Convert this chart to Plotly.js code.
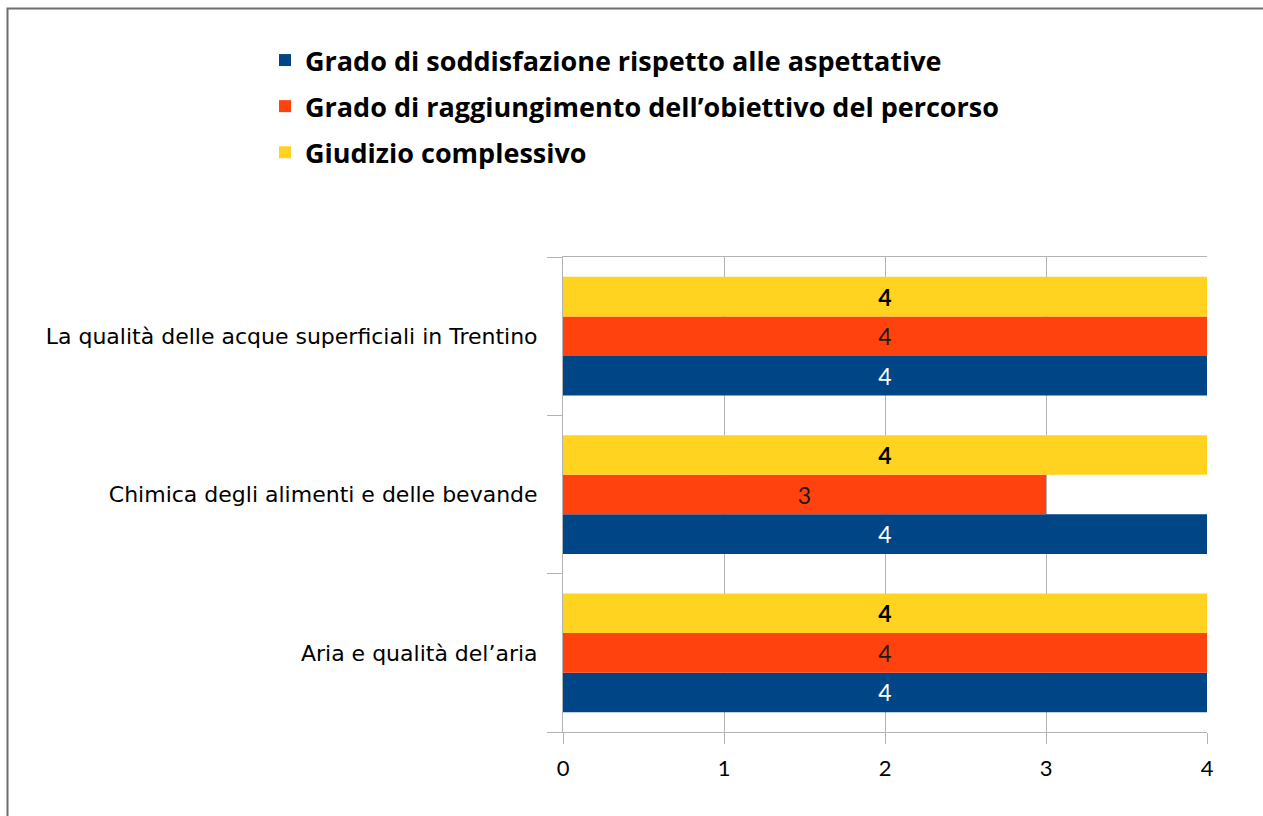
<!DOCTYPE html>
<html>
<head>
<meta charset="utf-8">
<script src="https://cdn.plot.ly/plotly-3.0.1.min.js"></script>
<style>
  html, body { margin: 0; padding: 0; background: #fff; overflow: hidden; }
  #chart { width: 1263px; height: 816px; }
</style>
</head>
<body>
<div id="chart"></div>
<script>
const categories = [
  "Aria e qualità del’aria",
  "Chimica degli alimenti e delle bevande",
  "La qualità delle acque superficiali in Trentino"
];
const seriesNames = [
  "Grado di soddisfazione rispetto alle aspettative",
  "Grado di raggiungimento dell’obiettivo del percorso",
  "Giudizio complessivo"
];
const soddisfazione = [4, 4, 4];
const raggiungimento = [4, 3, 4];
const giudizio = [4, 4, 4];
const xTicks = [0, 1, 2, 3, 4];

const colors = ["#004586", "#ff420e", "#ffd320"];
const textColors = ["#ffffff", "#1a1a1a", "#000000"];
const allValues = [soddisfazione, raggiungimento, giudizio];

const traces = allValues.map((vals, i) => ({
  type: "bar",
  orientation: "h",
  name: seriesNames[i],
  legendgroup: "g" + i,
  y: categories,
  x: vals,
  marker: { color: colors[i], line: { width: 0 } },
  text: vals.map(v => i === 2 ? "<b>" + v + "</b>" : String(v)),
  textposition: "inside",
  insidetextanchor: "middle",
  textangle: 0,
  constraintext: "none",
  textfont: { family: "Lato", size: 23, color: textColors[i] },
  hoverinfo: "x+name"
}));

const L = 563, R = 56, T = 257, B = 84;
const W = 1263, H = 816;
const pw = W - L - R, ph = H - T - B;
const px = v => (v - L) / pw;
const py = v => (H - B - v) / ph;

const layout = {
  width: W, height: H,
  margin: { l: L, r: R, t: T, b: B, pad: 0 },
  paper_bgcolor: "#ffffff",
  plot_bgcolor: "#ffffff",
  barmode: "group",
  bargap: 0.25,
  bargroupgap: 0,
  showlegend: true,
  legend: {
    orientation: "v",
    traceorder: "grouped",
    x: px(265), xanchor: "left",
    y: py(36), yanchor: "top",
    font: { family: "Open Sans", size: 27, color: "#000000", weight: "bold" },
    bgcolor: "rgba(0,0,0,0)",
    itemclick: false,
    itemdoubleclick: false,
    tracegroupgap: 8
  },
  xaxis: {
    range: [0, 4],
    tickvals: xTicks,
    ticktext: xTicks.map(String),
    showgrid: true,
    gridcolor: "#b3b3b3",
    gridwidth: 1,
    zeroline: false,
    showline: true,
    linecolor: "#b3b3b3",
    linewidth: 1,
    mirror: true,
    ticks: "outside",
    ticklen: 11,
    tickcolor: "#b3b3b3",
    tickwidth: 1,
    ticklabelstandoff: 6,
    tickfont: { family: "Lato", size: 22, color: "#000000" },
    fixedrange: true
  },
  yaxis: {
    type: "category",
    categoryorder: "array",
    categoryarray: categories,
    showgrid: false,
    zeroline: false,
    showline: true,
    linecolor: "#b3b3b3",
    linewidth: 1,
    ticks: "outside",
    tickson: "boundaries",
    ticklen: 15,
    tickcolor: "#b3b3b3",
    tickwidth: 1,
    ticklabelstandoff: 20,
    tickfont: { family: "DejaVu Sans", size: 22, color: "#000000" },
    fixedrange: true
  },
  shapes: [{
    type: "rect",
    xref: "paper", yref: "paper",
    x0: px(7.5), x1: px(1320),
    y0: py(860), y1: py(8.5),
    line: { color: "#6e6e6e", width: 2 },
    fillcolor: "rgba(0,0,0,0)",
    layer: "below"
  }]
};

Plotly.newPlot("chart", traces, layout, { displayModeBar: false, staticPlot: true });
</script>
</body>
</html>
